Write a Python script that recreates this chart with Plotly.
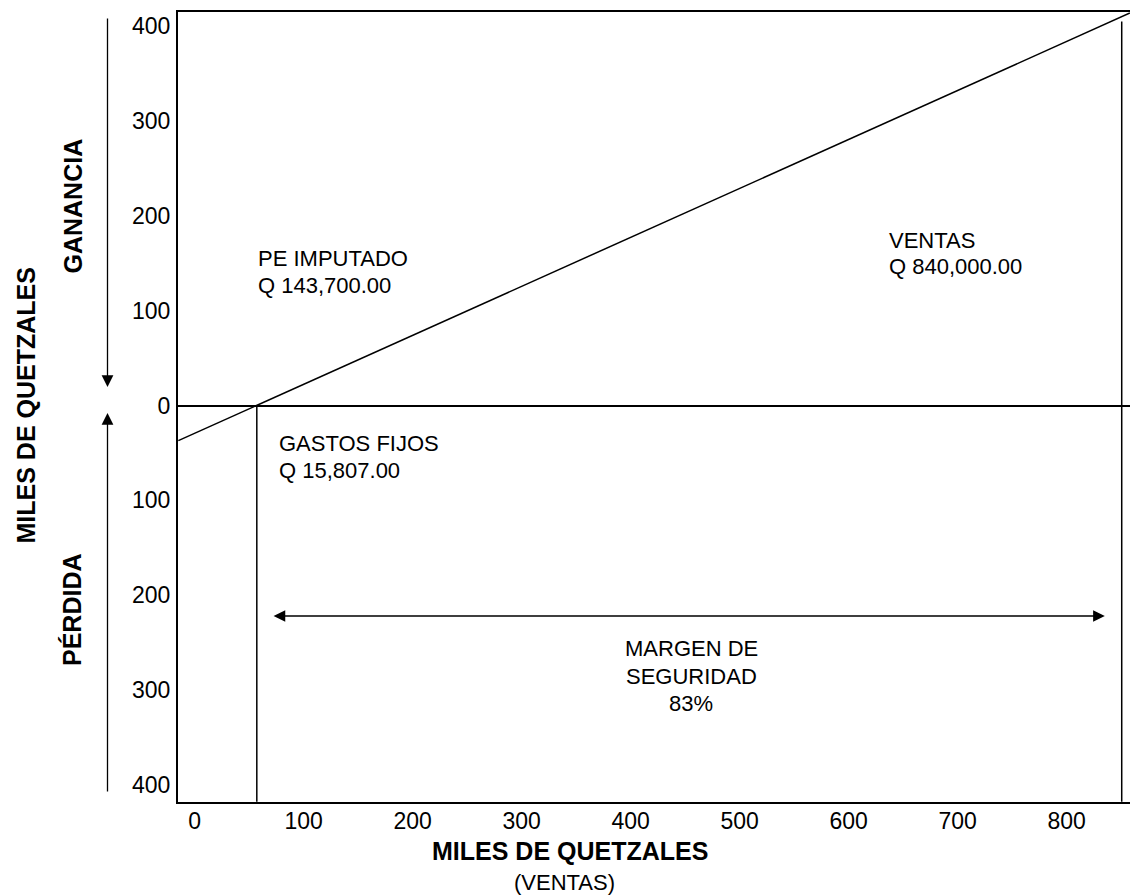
import plotly.graph_objects as go

# ---------------- data ----------------
x_tick_vals = [0, 100, 200, 300, 400, 500, 600, 700, 800]
x_tick_text = ["0", "100", "200", "300", "400", "500", "600", "700", "800"]
y_tick_vals = [-400, -300, -200, -100, 0, 100, 200, 300, 400]
y_tick_text = ["400", "300", "200", "100", "0", "100", "200", "300", "400"]

sales_line_x = [-15, 858]      # ventas line (miles de quetzales)
sales_line_y = [-37, 414]
pe_line_x = [57, 57]           # punto de equilibrio vertical
pe_line_y = [-418, 0]
ventas_line_x = [850.5, 850.5] # ventas vertical
ventas_line_y = [-418, 405]
margin_arrow_x = [71, 835]     # margen de seguridad arrow
margin_arrow_y = [-222, -222]

X_RANGE = [-15.3, 858.1]
Y_RANGE = [-418.2, 415.1]

# ---------------- layout geometry ----------------
W, H = 1130, 896
ML, MR, MT, MB = 178, 0, 12, 94
PW, PH = W - ML - MR, H - MT - MB

def dx(px):
    return X_RANGE[0] + (px - ML) / PW * (X_RANGE[1] - X_RANGE[0])

def dy(py):
    return Y_RANGE[1] - (py - MT) / PH * (Y_RANGE[1] - Y_RANGE[0])

def paper_x(px):
    return (px - ML) / PW

def paper_y(py):
    return (H - MB - py) / PH

FONT = "Liberation Sans, Arial, sans-serif"
LW = 1.5

fig = go.Figure()
for xs, ys in [(sales_line_x, sales_line_y), (pe_line_x, pe_line_y), (ventas_line_x, ventas_line_y)]:
    fig.add_trace(go.Scatter(x=xs, y=ys, mode="lines",
                             line=dict(color="black", width=LW),
                             showlegend=False, hoverinfo="skip"))

ann = []

def txt(text, px, py, size=22, bold=False, xanchor="left", angle=0, xref="x", yref="y"):
    t = f"<b>{text}</b>" if bold else text
    if xref == "x":
        xx, yy = dx(px), dy(py)
    else:
        xx, yy = paper_x(px), paper_y(py)
    ann.append(dict(text=t, x=xx, y=yy, xref=xref, yref=yref, showarrow=False,
                    xanchor=xanchor, yanchor="middle", textangle=angle,
                    font=dict(family=FONT, size=size, color="black")))

# in-plot labels (one annotation per line)
txt("PE IMPUTADO", 255.5, 258)
txt("Q 143,700.00", 255.5, 285)
txt("VENTAS", 886.5, 240)
txt("Q 840,000.00", 886.5, 266)
txt("GASTOS FIJOS", 276.5, 443)
txt("Q 15,807.00", 276.5, 470)
txt("MARGEN DE", 691, 648, xanchor="center")
txt("SEGURIDAD", 691, 676, xanchor="center")
txt("83%", 691, 703, xanchor="center")

# axis titles
txt("MILES DE QUETZALES", 570, 851, size=25, bold=True, xanchor="center", xref="paper", yref="paper")
txt("(VENTAS)", 564, 882, size=22, xanchor="center", xref="paper", yref="paper")
txt("MILES DE QUETZALES", 25, 405.5, size=25, bold=True, xanchor="center", angle=-90, xref="paper", yref="paper")
txt("GANANCIA", 73, 206.5, size=25, bold=True, xanchor="center", angle=-90, xref="paper", yref="paper")
txt("PÉRDIDA", 72, 610, size=25, bold=True, xanchor="center", angle=-90, xref="paper", yref="paper")

# margin of safety double arrow
ann.append(dict(x=margin_arrow_x[1], y=margin_arrow_y[1], ax=margin_arrow_x[0], ay=margin_arrow_y[0],
                xref="x", yref="y", axref="x", ayref="y", text="", showarrow=True,
                arrowhead=2, startarrowhead=2, arrowside="end+start", arrowsize=1.8,
                startarrowsize=1.8, arrowwidth=1.3, arrowcolor="black", standoff=0, startstandoff=0))

# left side arrows (ganancia / pérdida)
ann.append(dict(x=paper_x(107.5), y=paper_y(387), xref="paper", yref="paper",
                ax=0, ay=-370, axref="pixel", ayref="pixel", text="", showarrow=True,
                arrowhead=2, arrowsize=1.8, arrowwidth=1.3, arrowcolor="black", standoff=0))
ann.append(dict(x=paper_x(107.5), y=paper_y(413), xref="paper", yref="paper",
                ax=0, ay=380, axref="pixel", ayref="pixel", text="", showarrow=True,
                arrowhead=2, arrowsize=1.8, arrowwidth=1.3, arrowcolor="black", standoff=0))

fig.update_layout(
    width=W, height=H,
    margin=dict(l=ML, r=MR, t=MT, b=MB, pad=0),
    paper_bgcolor="white", plot_bgcolor="white",
    font=dict(family=FONT, color="black"),
    annotations=ann,
    showlegend=False,
    xaxis=dict(range=X_RANGE, tickvals=x_tick_vals, ticktext=x_tick_text,
               showgrid=False, zeroline=False, showline=True, linecolor="black",
               linewidth=2, mirror=True, ticks="", ticklabelstandoff=-3,
               tickfont=dict(family=FONT, size=23, color="black"), fixedrange=True),
    yaxis=dict(range=Y_RANGE, tickvals=y_tick_vals, ticktext=y_tick_text,
               showgrid=False, zeroline=True, zerolinecolor="black", zerolinewidth=LW,
               showline=True, linecolor="black", linewidth=2, ticks="",
               ticklabelstandoff=1,
               tickfont=dict(family=FONT, size=23, color="black"), fixedrange=True),
)

fig.write_html(
    "out.html",
    config={"displayModeBar": False},
    post_script="document.body.style.margin='0';document.body.style.overflow='hidden';",
)
